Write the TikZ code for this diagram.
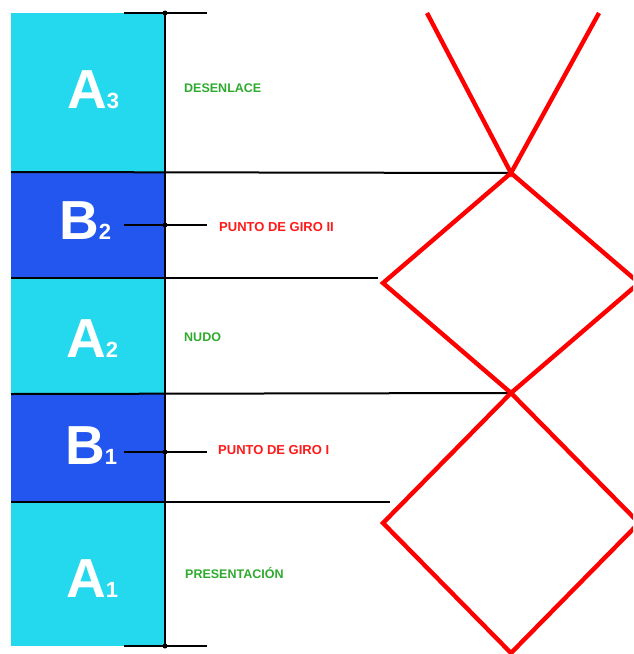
\documentclass[tikz,border=0pt]{standalone}
\usepackage{fontspec}
\setmainfont{Liberation Sans}
\definecolor{cyanbox}{HTML}{24D9EE}
\definecolor{bluebox}{HTML}{2356EE}
\definecolor{greentxt}{HTML}{2EAA2E}
\definecolor{redtxt}{HTML}{FF1A1A}
\definecolor{redline}{HTML}{FF0000}
\tikzset{
  seg/.style={inner sep=0pt, outer sep=0pt, anchor=north west},
  cyanseg/.style={seg, fill=cyanbox},
  blueseg/.style={seg, fill=bluebox},
  bigletter/.style={inner sep=0pt, anchor=base west, text=white, font=\bfseries},
  greenlbl/.style={inner sep=0pt, anchor=base west, text=greentxt, font=\bfseries\fontsize{12.5}{12.5}\selectfont},
  redlbl/.style={inner sep=0pt, anchor=base west, text=redtxt, font=\bfseries\fontsize{13}{13}\selectfont},
  blk/.style={line width=2pt, black},
  redpath/.style={line width=4.4pt, redline, line join=miter},
  dotstyle/.style={circle, fill=black, inner sep=0pt, minimum size=5pt}
}
\newcommand{\segletter}[2]{{\fontsize{55}{55}\selectfont #1}{\fontsize{22}{22}\selectfont #2}}
\begin{document}
\begin{tikzpicture}[x=1pt,y=-1pt]
\useasboundingbox (0,0) rectangle (633,654);
\clip (0,0) rectangle (633,654);
% segments
\node[cyanseg, minimum width=154pt, minimum height=159pt] (a3) at (11,13) {};
\node[blueseg, minimum width=154pt, minimum height=106pt] (b2) at (11,172) {};
\node[cyanseg, minimum width=154pt, minimum height=116pt] (a2) at (11,278) {};
\node[blueseg, minimum width=154pt, minimum height=108pt] (b1) at (11,394) {};
\node[cyanseg, minimum width=154pt, minimum height=144pt] (a1) at (11,502) {};
% big letters
\node[bigletter] (ta3) at (67,108) {\segletter{A}{3}};
\node[bigletter] (tb2) at (59,239) {\segletter{B}{2}};
\node[bigletter] (ta2) at (66,357) {\segletter{A}{2}};
\node[bigletter] (tb1) at (65,464) {\segletter{B}{1}};
\node[bigletter] (ta1) at (66,597) {\segletter{A}{1}};
% coordinates
\coordinate (vtop) at (165,13);
\coordinate (vbot) at (165,646);
\coordinate (ttl) at (124,13);
\coordinate (ttr) at (207,13);
\coordinate (btl) at (124,646);
\coordinate (btr) at (207,646);
\coordinate (g2l) at (124,225);
\coordinate (g2r) at (207,225);
\coordinate (g1l) at (124,452);
\coordinate (g1r) at (207,452);
\coordinate (h1l) at (11,172);
\coordinate (h2l) at (11,278);
\coordinate (h3l) at (11,394);
\coordinate (h4l) at (11,502);
\coordinate (h2r) at (378,278);
\coordinate (h4r) at (390,502);
% red shape vertices
\coordinate (xl) at (427,13);
\coordinate (xr) at (599,13);
\coordinate (p1) at (511,173);
\coordinate (d1l) at (383,283);
\coordinate (p2) at (511,393);
\coordinate (d1r) at (639,283);
\coordinate (d2l) at (383,523);
\coordinate (p3) at (511,653);
\coordinate (d2r) at (639,523);
% black lines
\draw[blk] (vtop) -- (vbot);
\draw[blk] (ttl) -- (ttr);
\draw[blk] (btl) -- (btr);
\draw[blk] (g2l) -- (g2r);
\draw[blk] (g1l) -- (g1r);
\draw[blk] (h1l) -- (p1);
\draw[blk] (h2l) -- (h2r);
\draw[blk] (h3l) -- (p2);
\draw[blk] (h4l) -- (h4r);
\node[dotstyle] (dt) at (vtop) {};
\node[dotstyle] (db) at (vbot) {};
\node[dotstyle] (dg2) at (165,225) {};
\node[dotstyle] (dg1) at (165,452) {};
% red lines
\draw[redpath] (xl) -- (p1) -- (xr);
\draw[redpath] (p1) -- (d1l) -- (p2) -- (d1r) -- cycle;
\draw[redpath] (p2) -- (d2l) -- (p3) -- (d2r) -- cycle;
% labels
\node[greenlbl] (l1) at (184,92) {DESENLACE};
\node[redlbl] (l2) at (219,231) {PUNTO DE GIRO II};
\node[greenlbl] (l3) at (184,341) {NUDO};
\node[redlbl] (l4) at (218,454) {PUNTO DE GIRO I};
\node[greenlbl] (l5) at (185,578) {PRESENTACIÓN};
\end{tikzpicture}
\end{document}
